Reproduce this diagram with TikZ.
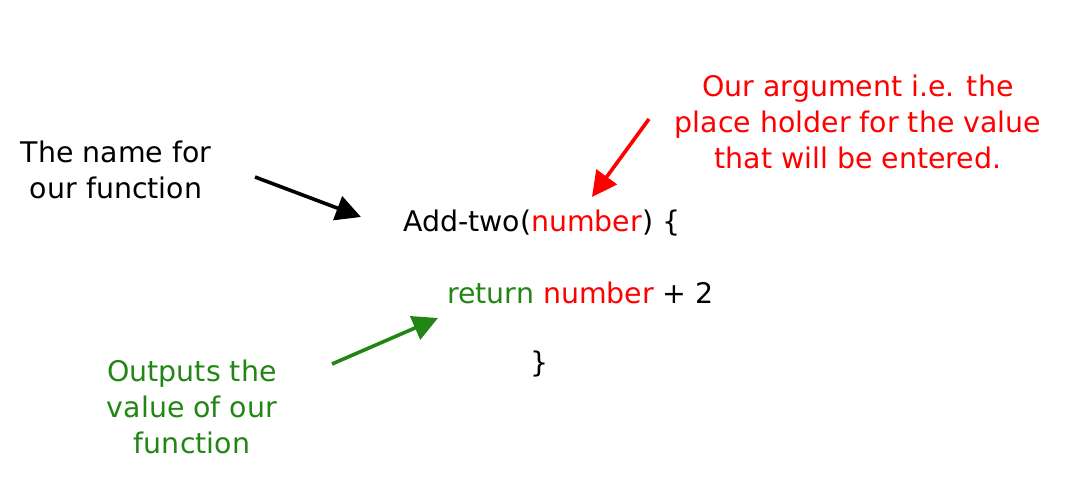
\documentclass[tikz,border=0pt]{standalone}
\usepackage{fontspec}
\setmainfont{DejaVu Sans}
\usetikzlibrary{arrows.meta}
\definecolor{argred}{RGB}{255,0,0}
\definecolor{outgreen}{RGB}{34,134,20}
\tikzset{
  lbl/.style={anchor=base, align=center, inner sep=0pt, font=\fontsize{28.4}{36}\selectfont},
  pointer/.style={line width=3.6pt, -{Triangle[length=25pt,width=25pt]}}
}
\begin{document}
\begin{tikzpicture}[x=1pt,y=-1pt]
\useasboundingbox (0,0) rectangle (1069,479);
\node[lbl] (name) at (116,198) {The name for\\our function};
\node[lbl, text=argred] (arg) at (858,168) {Our argument i.e. the\\place holder for the value\\that will be entered.};
\node[lbl, text=outgreen] (out) at (192,453) {Outputs the\\value of our\\function};
\node[lbl, anchor=base west] (head) at (403,231) {Add-two(\textcolor{argred}{number}) \{};
\node[lbl, anchor=base west] (ret) at (447,303) {\textcolor{outgreen}{return} \textcolor{argred}{number} + 2};
\node[lbl] (close) at (540,372) {\}};
\coordinate (a1s) at (255,177);
\coordinate (a1e) at (361,217);
\coordinate (a2s) at (649,119);
\coordinate (a2e) at (592,197);
\coordinate (a3s) at (332,364);
\coordinate (a3e) at (438,318);
\draw[pointer, black] (a1s) -- (a1e);
\draw[pointer, argred] (a2s) -- (a2e);
\draw[pointer, outgreen] (a3s) -- (a3e);
\end{tikzpicture}
\end{document}
